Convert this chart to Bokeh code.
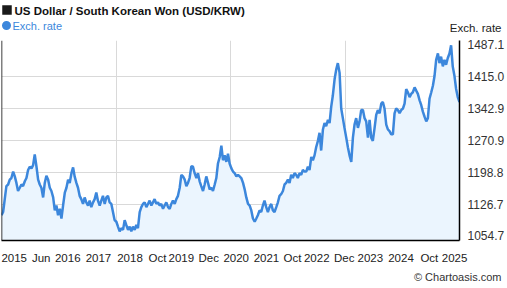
import pandas as pd
from bokeh.plotting import figure
from bokeh.layouts import column
from bokeh.models import Range1d, FixedTicker, Label, Span
from bokeh.embed import file_html
from bokeh.resources import INLINE

title_text = "US Dollar / South Korean Won (USD/KRW)"
series_name = "Exch. rate"
credit_text = "\u00a9 Chartoasis.com"
start_date = "2015-06-08"
end_date = "2025-06-10"

rates = [
    1101.3, 1108.6, 1137.9, 1167.2, 1170.9, 1181.8, 1185.5, 1200.2, 1189.2, 1174.5,
    1156.2, 1163.5, 1170.9, 1167.2, 1178.2, 1185.5, 1203.8, 1211.1, 1207.5, 1214.8,
    1238.9, 1211.1, 1181.8, 1170.9, 1163.5, 1141.6, 1174.5, 1190.6, 1181.8, 1163.5,
    1156.2, 1141.6, 1112.3, 1123.3, 1101.3, 1115.9, 1094.0, 1123.3, 1152.6, 1163.5,
    1181.8, 1174.5, 1196.5, 1209.7, 1189.2, 1174.5, 1163.5, 1145.2, 1137.9, 1126.9,
    1141.6, 1130.6, 1123.3, 1134.3, 1119.6, 1130.6, 1137.9, 1152.6, 1134.3, 1123.3,
    1134.3, 1145.2, 1126.9, 1141.6, 1145.2, 1130.6, 1126.9, 1108.6, 1090.3, 1086.6,
    1075.6, 1064.7, 1072.0, 1068.3, 1090.3, 1079.3, 1068.3, 1075.6, 1064.7, 1075.6,
    1068.3, 1079.3, 1072.0, 1108.6, 1119.6, 1126.9, 1130.6, 1119.6, 1126.9, 1134.3,
    1123.3, 1130.6, 1137.9, 1126.9, 1130.6, 1123.3, 1126.9, 1115.9, 1123.3, 1130.6,
    1119.6, 1115.9, 1126.9, 1134.3, 1126.9, 1137.9, 1145.2, 1163.5, 1192.8, 1189.2,
    1181.8, 1167.2, 1174.5, 1185.5, 1212.6, 1211.1, 1196.5, 1185.5, 1196.5, 1178.2,
    1167.2, 1156.2, 1170.9, 1189.2, 1174.5, 1159.9, 1163.5, 1156.2, 1170.9, 1185.5,
    1218.5, 1233.1, 1258.7, 1225.8, 1236.8, 1222.1, 1240.4, 1218.5, 1207.5, 1200.2,
    1196.5, 1189.2, 1192.8, 1189.2, 1185.5, 1174.5, 1159.9, 1141.6, 1126.9, 1123.3,
    1112.3, 1094.0, 1086.6, 1094.0, 1101.3, 1112.3, 1108.6, 1123.3, 1134.3, 1119.6,
    1108.6, 1119.6, 1126.9, 1112.3, 1108.6, 1119.6, 1130.6, 1145.2, 1148.9, 1156.2,
    1170.9, 1174.5, 1181.8, 1174.5, 1192.8, 1185.5, 1196.5, 1192.8, 1185.5, 1196.5,
    1192.8, 1203.8, 1200.2, 1200.2, 1211.1, 1203.8, 1233.1, 1225.8, 1236.8, 1255.1,
    1269.7, 1288.0, 1247.8, 1295.4, 1310.0, 1302.7, 1317.3, 1310.0, 1346.6, 1372.2,
    1408.9, 1430.8, 1445.5, 1423.5, 1342.9, 1321.0, 1299.0, 1277.0, 1255.1, 1236.8,
    1222.1, 1277.0, 1306.3, 1321.0, 1299.0, 1313.7, 1339.3, 1339.3, 1321.0, 1313.7,
    1277.0, 1317.3, 1277.0, 1269.7, 1299.0, 1328.3, 1339.3, 1332.0, 1353.9, 1357.6,
    1342.9, 1306.3, 1295.4, 1291.7, 1284.4, 1284.4, 1332.0, 1342.9, 1339.3, 1332.0,
    1339.3, 1342.9, 1353.9, 1386.9, 1379.6, 1368.6, 1375.9, 1379.6, 1390.6, 1383.2,
    1375.9, 1361.3, 1350.3, 1335.7, 1324.7, 1313.7, 1321.0, 1364.9, 1379.6, 1394.2,
    1416.2, 1452.8, 1467.4, 1445.5, 1460.1, 1438.2, 1452.8, 1441.8, 1456.5, 1467.4,
    1485.8, 1438.2, 1416.2, 1386.9, 1368.6, 1357.6,
]

y_ticks = [1054.7, 1126.7, 1198.8, 1270.9, 1342.9, 1415.0, 1487.1]
y_tick_labels = ["1054.7", "1126.7", "1198.8", "1270.9", "1342.9", "1415.0", "1487.1"]
y_min, y_max = 1044.2, 1496.7

x_tick_years = [2015.71, 2016.30, 2016.88, 2017.55, 2018.24, 2018.84, 2019.36, 2019.96,
                2020.56, 2021.22, 2021.79, 2022.32, 2022.92, 2023.49, 2024.16, 2024.78, 2025.33]
x_tick_labels = ["2015", "Jun", "2016", "2017", "2018", "Oct", "2019", "Dec",
                 "2020", "2021", "Oct", "2022", "Dec", "2023", "2024", "Oct", "2025"]

dates = pd.date_range(start_date, end_date, periods=len(rates))
years = [d.year + (d.dayofyear - 1) / 365.25 for d in dates]

FONT = "Liberation Sans"
LINE = "#3c87dc"
FILL = "#ebf5fe"
W = 507
HEAD_H, MAIN_H, FOOT_H = 36, 230, 22


def text_strip(height):
    f = figure(width=W, height=height, output_backend="svg", toolbar_location=None,
               x_range=Range1d(0, W), y_range=Range1d(height, 0),
               x_axis_type=None, y_axis_type=None, min_border=0, title=None,
               frame_align=False)
    f.outline_line_color = None
    f.grid.visible = False
    f.background_fill_color = "white"
    f.border_fill_color = "white"
    return f


def add_label(f, text, x, y, size, color, style="normal", align="left"):
    f.add_layout(Label(x=x, y=y, text=text, text_font=FONT, text_font_size=size,
                       text_color=color, text_font_style=style, text_align=align,
                       text_baseline="middle"))


# ---- header: title, legend, axis caption
head = text_strip(HEAD_H)
head.scatter(x=[6.5], y=[9.5], marker="square", size=9.5, fill_color="#1a1a1a", line_color=None)
add_label(head, title_text, 14, 10, "11.5px", "#111111", style="bold")
head.scatter(x=[6], y=[25], marker="circle", size=9, fill_color=LINE, line_color=None)
add_label(head, series_name, 12, 25, "11px", LINE)
add_label(head, series_name, 501, 27, "11.5px", "#222222", align="right")

# ---- main chart
x0, x1 = years[0], years[-1]
p = figure(width=W, height=MAIN_H, output_backend="svg", toolbar_location=None,
           x_range=Range1d(x0, x1), y_range=Range1d(y_min, y_max),
           y_axis_location="right", title=None, frame_align=False,
           min_border_left=1, min_border_right=48, min_border_top=4, min_border_bottom=20)
p.outline_line_color = None
p.background_fill_color = "white"
p.border_fill_color = "white"

p.varea(x=years, y1=y_min, y2=rates, fill_color=FILL)
p.line(x=years, y=rates, line_color=LINE, line_width=2.5)

yax = p.yaxis[0]
yax.ticker = FixedTicker(ticks=y_ticks)
yax.major_label_overrides = {t: l for t, l in zip(y_ticks, y_tick_labels)}
yax.major_tick_line_color = None
yax.minor_tick_line_color = None
yax.axis_line_color = "#000000"
yax.axis_line_width = 1.5
yax.major_label_standoff = 2
yax.major_label_text_font = FONT
yax.major_label_text_font_size = "12px"
yax.major_label_text_color = "#333333"

xax = p.xaxis[0]
xax.ticker = FixedTicker(ticks=x_tick_years)
xax.major_label_overrides = {t: l for t, l in zip(x_tick_years, x_tick_labels)}
xax.major_tick_line_color = None
xax.minor_tick_line_color = None
xax.axis_line_color = "#000000"
xax.axis_line_width = 1.5
xax.major_label_standoff = 5
xax.major_label_text_font = FONT
xax.major_label_text_font_size = "11.5px"
xax.major_label_text_color = "#222222"

p.ygrid.ticker = FixedTicker(ticks=y_ticks[1:-1])
p.ygrid.grid_line_color = "#d9d9d9"
p.xgrid.ticker = FixedTicker(ticks=[x0 + i * (x1 - x0) / 4 for i in (1, 2, 3)])
p.xgrid.grid_line_color = "#d9d9d9"

p.add_layout(Span(location=x0, dimension="height", line_color="#000000", line_width=1.5))

# ---- footer: credit
foot = text_strip(FOOT_H)
add_label(foot, credit_text, 501, 10, "11px", "#333333", align="right")

layout = column(head, p, foot, spacing=0)
open("out.html", "w").write(file_html(layout, INLINE))
